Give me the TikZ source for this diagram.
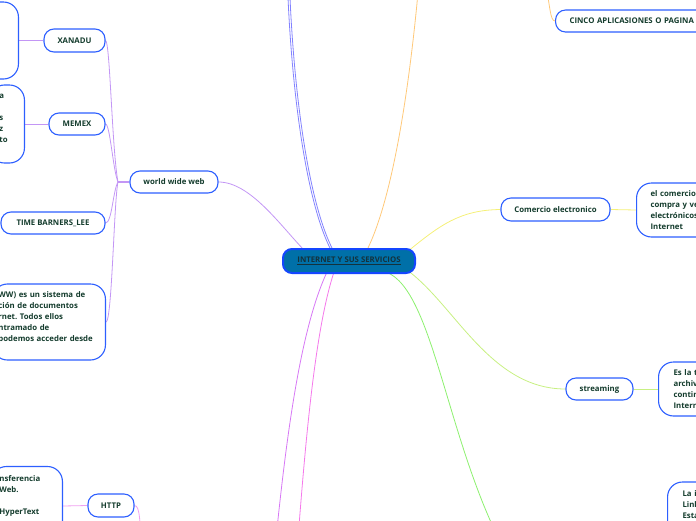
\documentclass[tikz,border=0pt]{standalone}
\usepackage{fontspec}
\setmainfont{Open Sans}
\frenchspacing
\pgfdeclarelayer{background}
\pgfsetlayers{background,main}
\definecolor{nodeblue}{RGB}{45,95,255}
\definecolor{txt}{RGB}{20,60,45}
\definecolor{cfill}{RGB}{0,112,168}
\definecolor{cborder}{RGB}{20,70,255}
\definecolor{ctext}{RGB}{20,50,60}
\definecolor{cpurple}{RGB}{195,150,245}
\definecolor{cblue}{RGB}{130,130,255}
\definecolor{corange}{RGB}{255,200,120}
\definecolor{cyellow}{RGB}{245,240,120}
\definecolor{clgreen}{RGB}{200,240,130}
\definecolor{cgreen}{RGB}{140,240,110}
\definecolor{cviolet}{RGB}{215,120,245}
\definecolor{cpink}{RGB}{245,120,235}
\definecolor{chttp}{RGB}{240,160,240}
\newcommand\myfont{\fontsize{7.8}{11}\selectfont\bfseries}
\begin{document}
\begin{tikzpicture}[x=1pt,y=-1pt,
  topic/.style={draw=nodeblue,line width=1.1pt,rounded corners=10pt,fill=white,text=txt,font=\myfont,inner sep=0pt,align=center},
  bigbox/.style={draw=nodeblue,line width=1.1pt,rounded corners=15pt,fill=white,text=txt,font=\myfont,inner ysep=0pt,align=left},
  central/.style={draw=cborder,line width=2pt,rounded corners=9pt,fill=cfill,text=ctext,font=\myfont,inner sep=0pt,minimum width=132,minimum height=24},
  conn/.style={line width=0.8pt}]
\useasboundingbox (0,0) rectangle (696,520);

% central
\node[central] (c) at (349,261) {\underline{INTERNET Y SUS SERVICIOS}};

% topics
\node[topic,minimum width=88,minimum height=22] (www) at (174,182) {world wide web};
\node[topic,minimum width=61,minimum height=23] (xan) at (74.5,40.5) {XANADU};
\node[topic,minimum width=56,minimum height=22] (mem) at (77,124) {MEMEX};
\node[topic,minimum width=104,minimum height=22] (tim) at (53,223) {TIME BARNERS\_LEE};
\node[topic,minimum width=46,minimum height=23] (http) at (111,505.5) {HTTP};
\node[topic,minimum width=109,minimum height=23] (com) at (555.5,209.5) {Comercio electronico};
\node[topic,minimum width=67,minimum height=22] (str) at (599.5,389) {streaming};
\node[topic,anchor=west,align=left,inner xsep=14pt,text width=160,minimum height=22] (cinco) at (555,21) {CINCO APLICASIONES O PAGINA};

% big boxes
\node[bigbox,anchor=east,minimum width=80,minimum height=77] (xch) at (19,40.5) {};
\node[bigbox,anchor=east,minimum height=78,inner xsep=10pt,text width=15] (mch) at (25,124) {a\\\mbox{}\\s\\z\\to\\\mbox{}};
\node[bigbox,anchor=east,minimum height=76,inner xsep=6pt,text width=101] (wch) at (106,322) {WW) es un sistema de\\ción de documentos\\rnet. Todos ellos\\ntramado de\\podemos acceder desde\\\mbox{}};
\node[bigbox,anchor=east,minimum height=79,inner xsep=8pt,text width=55] (hch) at (63,506) {nsferencia\\Web.\\\mbox{}\\HyperText\\\mbox{}\\\mbox{}};
\node[bigbox,anchor=west,minimum height=54,inner xsep=14pt,text width=80] (cch) at (636,210) {el comercio\\compra y ve\\electrónicos\\Internet};
\node[bigbox,anchor=west,minimum height=54,inner xsep=15pt,text width=80] (sch) at (658,389) {Es la t\\archiv\\contin\\Intern};
\node[bigbox,anchor=west,minimum height=78,inner xsep=15pt,text width=80] (bch) at (667,521) {La i\\Link\\Esta\\\mbox{}\\\mbox{}\\\mbox{}};

\begin{pgfonlayer}{background}
\coordinate (j) at (118,182);
\coordinate (bt1) at (287,-30);
\coordinate (bt2) at (289,-30);
\coordinate (ot) at (420,-30);
\coordinate (ot2) at (545,-20);
\coordinate (vb) at (272,580);
\coordinate (pb) at (295,580);
\coordinate (gb) at (510,560);
\coordinate (hb) at (142,560);
% world wide web branch
\draw[conn,cpurple] (www.east) .. controls (250,182) and (280,225) .. ([xshift=22pt,yshift=-2pt]c.north west);
\draw[cpurple,line width=1.6pt] (www.west) -- (j);
\draw[conn,cpurple] (j) .. controls (112,150) and (110,41) .. (xan.east);
\draw[conn,cpurple] (j) .. controls (113,170) and (110,124) .. (mem.east);
\draw[conn,cpurple] (j) .. controls (113,190) and (112,223) .. (tim.east);
\draw[conn,cpurple] (j) .. controls (114,200) and (112,322) .. (wch.east);
\draw[conn,cpurple] (xch.east) -- (xan.west);
\draw[conn,cpurple] (mch.east) -- (mem.west);
% top lines
\draw[conn,cblue] ([xshift=49pt,yshift=-2pt]c.north west) .. controls (305,200) and (290,80) .. (bt1);
\draw[conn,cblue] ([xshift=51pt,yshift=-2pt]c.north west) .. controls (307,200) and (292,80) .. (bt2);
\draw[conn,corange] ([xshift=85pt,yshift=-2pt]c.north west) .. controls (392,200) and (410,90) .. (ot);
\draw[conn,corange] (ot2) .. controls (550,5) and (550,21) .. (cinco.west);
% right
\draw[conn,cyellow] ([xshift=125pt,yshift=-4pt]c.north west) .. controls (440,225) and (460,210) .. (com.west);
\draw[conn,cyellow] (com.east) -- (cch.west);
\draw[conn,clgreen] ([xshift=125pt,yshift=4pt]c.south west) .. controls (455,305) and (490,389) .. (str.west);
\draw[conn,clgreen] (str.east) -- (sch.west);
\draw[conn,cgreen] ([xshift=104pt,yshift=2pt]c.south west) .. controls (435,290) and (447,450) .. (gb);
% bottom
\draw[conn,cviolet] ([xshift=45pt,yshift=2pt]c.south west) .. controls (300,330) and (285,440) .. (vb);
\draw[conn,cpink] ([xshift=52pt,yshift=2pt]c.south west) .. controls (315,330) and (305,440) .. (pb);
\draw[conn,chttp] (http.east) .. controls (140,506) and (140,520) .. (hb);
\draw[conn,chttp] (hch.east) -- (http.west);
\end{pgfonlayer}
\end{tikzpicture}
\end{document}
